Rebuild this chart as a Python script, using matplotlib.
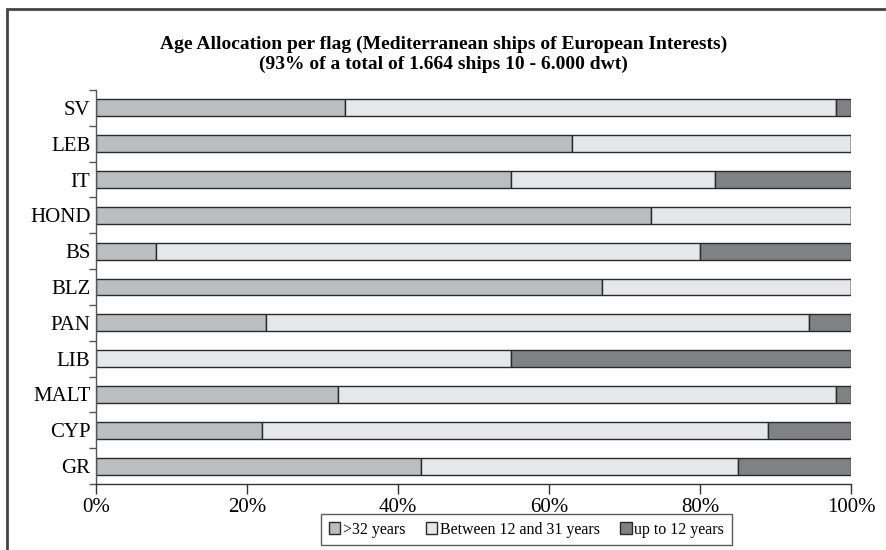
import matplotlib
matplotlib.use("Agg")
import matplotlib.pyplot as plt
from matplotlib.patches import Rectangle
import numpy as np

categories = ["SV", "LEB", "IT", "HOND", "BS", "BLZ", "PAN", "LIB", "MALT", "CYP", "GR"]
over32 = [33, 63, 55, 73.5, 8, 67, 22.5, 0, 32, 22, 43]
between12_31 = [65, 37, 27, 26.5, 72, 33, 72, 55, 66, 67, 42]
upto12 = [2, 0, 18, 0, 20, 0, 5.5, 45, 2, 11, 15]
series_names = [">32 years", "Between 12 and 31 years", "up to 12 years"]
colors = ["#bcbdc0", "#e6e7e8", "#808184"]
xtick_vals = [0, 20, 40, 60, 80, 100]
xtick_labels = ["0%", "20%", "40%", "60%", "80%", "100%"]

plt.rcParams["font.family"] = ["Liberation Serif", "DejaVu Serif"]

W, H = 886, 550
fig = plt.figure(figsize=(W / 100, H / 100), dpi=100)
ax = fig.add_axes([96 / W, 1 - 484 / H, (851 - 96) / W, (484 - 90) / H])

n = len(categories)
y = np.arange(n)[::-1]
vals = [np.array(over32), np.array(between12_31), np.array(upto12)]
tot = sum(vals)
left = np.zeros(n)
handles = []
for v, c, name in zip(vals, colors, series_names):
    pct = v / tot * 100
    h = ax.barh(y, pct, left=left, height=0.47, color=c, edgecolor="#2a2a2a",
                linewidth=1.0, label=name)
    handles.append(h)
    left = left + pct

ax.set_xlim(0, 100)
ax.set_ylim(-0.5, n - 0.5)
ax.set_yticks(y)
ax.set_yticklabels(categories, fontsize=15)
ax.tick_params(axis="y", which="major", length=0, pad=4)
ax.set_yticks(np.arange(-0.5, n, 1.0), minor=True)
ax.tick_params(axis="y", which="minor", length=5, width=1, color="#555555", direction="out")
ax.set_xticks(xtick_vals)
ax.set_xticklabels(xtick_labels, fontsize=15)
ax.tick_params(axis="x", length=7, width=1, color="#333333", direction="out", pad=3)

for s in ["top", "right"]:
    ax.spines[s].set_visible(False)
ax.spines["left"].set_color("#555555")
ax.spines["bottom"].set_color("#333333")
ax.spines["left"].set_linewidth(1)
ax.spines["bottom"].set_linewidth(1)

cx = (155 + 732) / 2 / W
fig.text(cx, 1 - 44 / H,
         "Age Allocation per flag (Mediterranean ships of European Interests)",
         ha="center", va="center", fontsize=14, fontweight="bold")
fig.text(cx, 1 - 64 / H,
         "(93% of a total of 1.664 ships 10 - 6.000 dwt)",
         ha="center", va="center", fontsize=14, fontweight="bold")

leg = fig.legend(handles=handles, labels=series_names, loc="center",
                 bbox_to_anchor=(526.5 / W, 1 - 529.5 / H), ncol=3, fontsize=11.5,
                 frameon=True, fancybox=False, edgecolor="#333333",
                 handlelength=0.7, handleheight=0.7, handletextpad=0.15,
                 columnspacing=1.3, borderpad=0.5, borderaxespad=0)
leg.get_frame().set_linewidth(1)

fig.patches.append(Rectangle((7 / W, -0.1), 2.0, 1 - 9 / H + 0.1,
                             transform=fig.transFigure, fill=False,
                             edgecolor="#444444", linewidth=2))

fig.savefig("out.png", dpi=100)
